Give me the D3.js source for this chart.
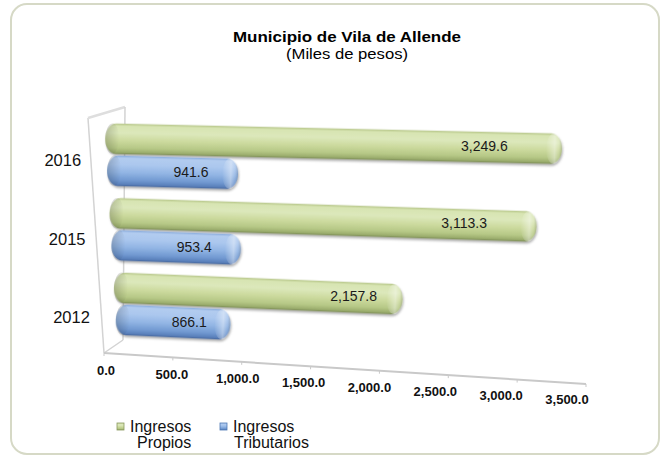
<!DOCTYPE html>
<html lang="es">
<head>
<meta charset="UTF-8">
<title>Municipio de Vila de Allende</title>
<script src="https://cdn.jsdelivr.net/npm/d3@7"></script>
<style>
	body { margin: 0; background: #fff; }
	svg { display: block; font-family: "Liberation Sans", Arial, sans-serif; }
</style>
</head>
<body>
<svg id="grafico" width="661" height="456"></svg>
<script>
// datos
var years = ["2016", "2015", "2012"];
var series = ["Ingresos Propios", "Ingresos Tributarios"];
var propios = [3249.6, 3113.3, 2157.8];
var tributarios = [941.6, 953.4, 866.1];
var tickValues = [0, 500, 1000, 1500, 2000, 2500, 3000, 3500];

var svg = d3.select("#grafico");
var fmt = d3.format(",.1f");

// marco
svg.append("rect")
	.attr("x", 11).attr("y", 4).attr("width", 648).attr("height", 450)
	.attr("rx", 16).attr("fill", "#fff")
	.attr("stroke", "#d6d9c6").attr("stroke-width", 2);

// titulo
svg.append("text").attr("x", 347).attr("y", 42)
	.attr("text-anchor", "middle").attr("font-size", 15).attr("font-weight", "bold")
	.attr("textLength", 228).attr("lengthAdjust", "spacingAndGlyphs")
	.text("Municipio de Vila de Allende");
svg.append("text").attr("x", 347).attr("y", 59)
	.attr("text-anchor", "middle").attr("font-size", 14)
	.attr("textLength", 122).attr("lengthAdjust", "spacingAndGlyphs")
	.text("(Miles de pesos)");

var defs = svg.append("defs");

function cylinder(id, stops) {
	var g = defs.append("linearGradient").attr("id", id)
		.attr("x1", 0).attr("y1", 0).attr("x2", 0).attr("y2", 1);
	stops.forEach(function (s) {
		g.append("stop").attr("offset", s[0]).attr("stop-color", s[1]);
	});
}
cylinder("gVerde", [[0, "#b5c587"], [0.08, "#d7e4b2"], [0.3, "#dce8bb"], [0.55, "#ccda9e"],
	[0.8, "#b6c886"], [0.94, "#9bad6d"], [1, "#7b8b55"]]);
cylinder("gAzul", [[0, "#87a9da"], [0.08, "#b2ccef"], [0.3, "#abc7ee"], [0.55, "#92b5e4"],
	[0.8, "#7199d1"], [0.94, "#5a80bb"], [1, "#46679c"]]);

var left = defs.append("linearGradient").attr("id", "gIzq");
left.append("stop").attr("offset", 0).attr("stop-color", "#000").attr("stop-opacity", 0.18);
left.append("stop").attr("offset", 1).attr("stop-color", "#000").attr("stop-opacity", 0);

var right = defs.append("linearGradient").attr("id", "gDer");
right.append("stop").attr("offset", 0).attr("stop-color", "#fff").attr("stop-opacity", 0);
right.append("stop").attr("offset", 0.55).attr("stop-color", "#fff").attr("stop-opacity", 0.4);
right.append("stop").attr("offset", 0.8).attr("stop-color", "#fff").attr("stop-opacity", 0.1);
right.append("stop").attr("offset", 1).attr("stop-color", "#000").attr("stop-opacity", 0.15);

defs.append("filter").attr("id", "sombra").attr("x", "-5%").attr("y", "-20%")
	.attr("width", "110%").attr("height", "160%")
	.append("feDropShadow").attr("dx", 1).attr("dy", 2).attr("stdDeviation", 1.2)
	.attr("flood-color", "#555").attr("flood-opacity", 0.45);

// escalas (perspectiva aproximada)
var y0 = d3.scaleBand().domain(years).range([118, 340]).paddingInner(0.12).paddingOuter(0.05);
var y1 = d3.scaleBand().domain(series).range([0, y0.bandwidth()]).padding(0.05);
var depth = d3.scaleLinear().domain([118, 340]).range([0, 1]);
var originX = d3.scaleLinear().domain([0, 1]).range([104, 117]);
var unit = d3.scaleLinear().domain([0, 1]).range([0.1415, 0.1315]);
var tilt = d3.scaleLinear().domain([0, 1]).range([0.02, 0.048]);

var axisX = d3.scaleLinear().domain([0, 3500]).range([104, 586]);
var axisY = d3.scaleLinear().domain([0, 3500]).range([353, 384]);
var labelX = d3.scaleLinear().domain([0, 3500]).range([106, 567]);
var labelY = d3.scaleLinear().domain([0, 3500]).range([375, 404]);

// paredes
var pared = svg.append("g").attr("fill", "none").attr("stroke", "#d3d3d3").attr("stroke-width", 1.5);
pared.append("line").attr("x1", 88).attr("y1", 118).attr("x2", axisX(0)).attr("y2", axisY(0));
pared.append("line").attr("x1", 88).attr("y1", 118).attr("x2", 125).attr("y2", 107).attr("stroke-width", 2.5).attr("stroke", "#dedede");
pared.append("line").attr("x1", 125).attr("y1", 107).attr("x2", 123).attr("y2", 340);
pared.append("line").attr("x1", axisX(0)).attr("y1", axisY(0)).attr("x2", 123).attr("y2", 340);

// eje x
svg.append("line")
	.attr("x1", axisX(0)).attr("y1", axisY(0)).attr("x2", axisX(3500)).attr("y2", axisY(3500))
	.attr("stroke", "#c9c9c9").attr("stroke-width", 2);
svg.selectAll(".tick").data(tickValues).enter().append("line")
	.attr("x1", function (d) { return axisX(d); }).attr("y1", function (d) { return axisY(d); })
	.attr("x2", function (d) { return axisX(d); }).attr("y2", function (d) { return axisY(d) + 3; })
	.attr("stroke", "#c9c9c9");
svg.selectAll(".ticklabel").data(tickValues).enter().append("text")
	.attr("x", function (d) { return labelX(d); }).attr("y", function (d) { return labelY(d); })
	.attr("text-anchor", "middle").attr("font-size", 13).attr("font-weight", "bold").attr("fill", "#111")
	.text(function (d) { return fmt(d); });

// barras
var rows = [];
years.forEach(function (yr, i) {
	rows.push({ year: yr, serie: series[0], value: propios[i], grad: "gVerde", frac: 0.83 });
	rows.push({ year: yr, serie: series[1], value: tributarios[i], grad: "gAzul", frac: 0.64 });
});
rows.forEach(function (d) {
	d.h = y1.bandwidth();
	d.cy = y0(d.year) + y1(d.serie) + d.h / 2;
	d.t = depth(d.cy);
	d.x0 = originX(d.t);
	d.len = unit(d.t) * d.value;
	d.slope = tilt(d.t);
});

var bar = svg.selectAll(".bar").data(rows).enter().append("g")
	.attr("transform", function (d) {
		return "translate(" + d.x0 + "," + d.cy + ") rotate(" + (Math.atan(d.slope) * 180 / Math.PI) + ")";
	});
bar.append("rect")
	.attr("x", 0).attr("y", function (d) { return -d.h / 2; })
	.attr("width", function (d) { return d.len; }).attr("height", function (d) { return d.h; })
	.attr("rx", 11).attr("ry", function (d) { return d.h / 2; })
	.attr("fill", function (d) { return "url(#" + d.grad + ")"; })
	.attr("filter", "url(#sombra)");
bar.append("rect")
	.attr("x", 0).attr("y", function (d) { return -d.h / 2; })
	.attr("width", 14).attr("height", function (d) { return d.h; })
	.attr("rx", 11).attr("ry", function (d) { return d.h / 2; })
	.attr("fill", "url(#gIzq)");
bar.append("rect")
	.attr("x", function (d) { return d.len - 16; }).attr("y", function (d) { return -d.h / 2; })
	.attr("width", 16).attr("height", function (d) { return d.h; })
	.attr("rx", 11).attr("ry", function (d) { return d.h / 2; })
	.attr("fill", "url(#gDer)");

// etiquetas de valor
svg.selectAll(".valor").data(rows).enter().append("text")
	.attr("x", function (d) { return d.x0 + d.len * d.frac; })
	.attr("y", function (d) { return d.cy + d.slope * d.len * d.frac + 4; })
	.attr("text-anchor", "middle").attr("font-size", 14).attr("fill", "#1a1a1a")
	.text(function (d) { return fmt(d.value); });

// etiquetas de año
svg.selectAll(".anio").data(years).enter().append("text")
	.attr("x", function (d) { return originX(depth(y0(d) + y0.bandwidth() / 2)) - 25; })
	.attr("y", function (d) {
		var c = y0(d) + y0.bandwidth() / 2;
		return c + 4 + 12 * depth(c) + 5.5;
	})
	.attr("text-anchor", "end").attr("font-size", 16.5).attr("fill", "#111")
	.text(function (d) { return d; });

// leyenda
var leyenda = [
	{ lines: ["Ingresos", "Propios"], grad: "gVerde", x: 117, x2: 137 },
	{ lines: ["Ingresos", "Tributarios"], grad: "gAzul", x: 220, x2: 234 }
];
var lg = svg.selectAll(".leg").data(leyenda).enter().append("g");
lg.append("rect").attr("x", function (d) { return d.x; }).attr("y", 423)
	.attr("width", 7).attr("height", 7)
	.attr("fill", function (d) { return "url(#" + d.grad + ")"; })
	.attr("stroke", function (d) { return d.grad === "gVerde" ? "#8a9a60" : "#4f79b5"; }).attr("stroke-width", 0.8);
lg.append("text").attr("x", function (d) { return d.x + 13; }).attr("y", 432)
	.attr("font-size", 16).attr("fill", "#111")
	.text(function (d) { return d.lines[0]; });
lg.append("text").attr("x", function (d) { return d.x2; }).attr("y", 448)
	.attr("font-size", 16).attr("fill", "#111")
	.text(function (d) { return d.lines[1]; });
</script>
</body>
</html>
